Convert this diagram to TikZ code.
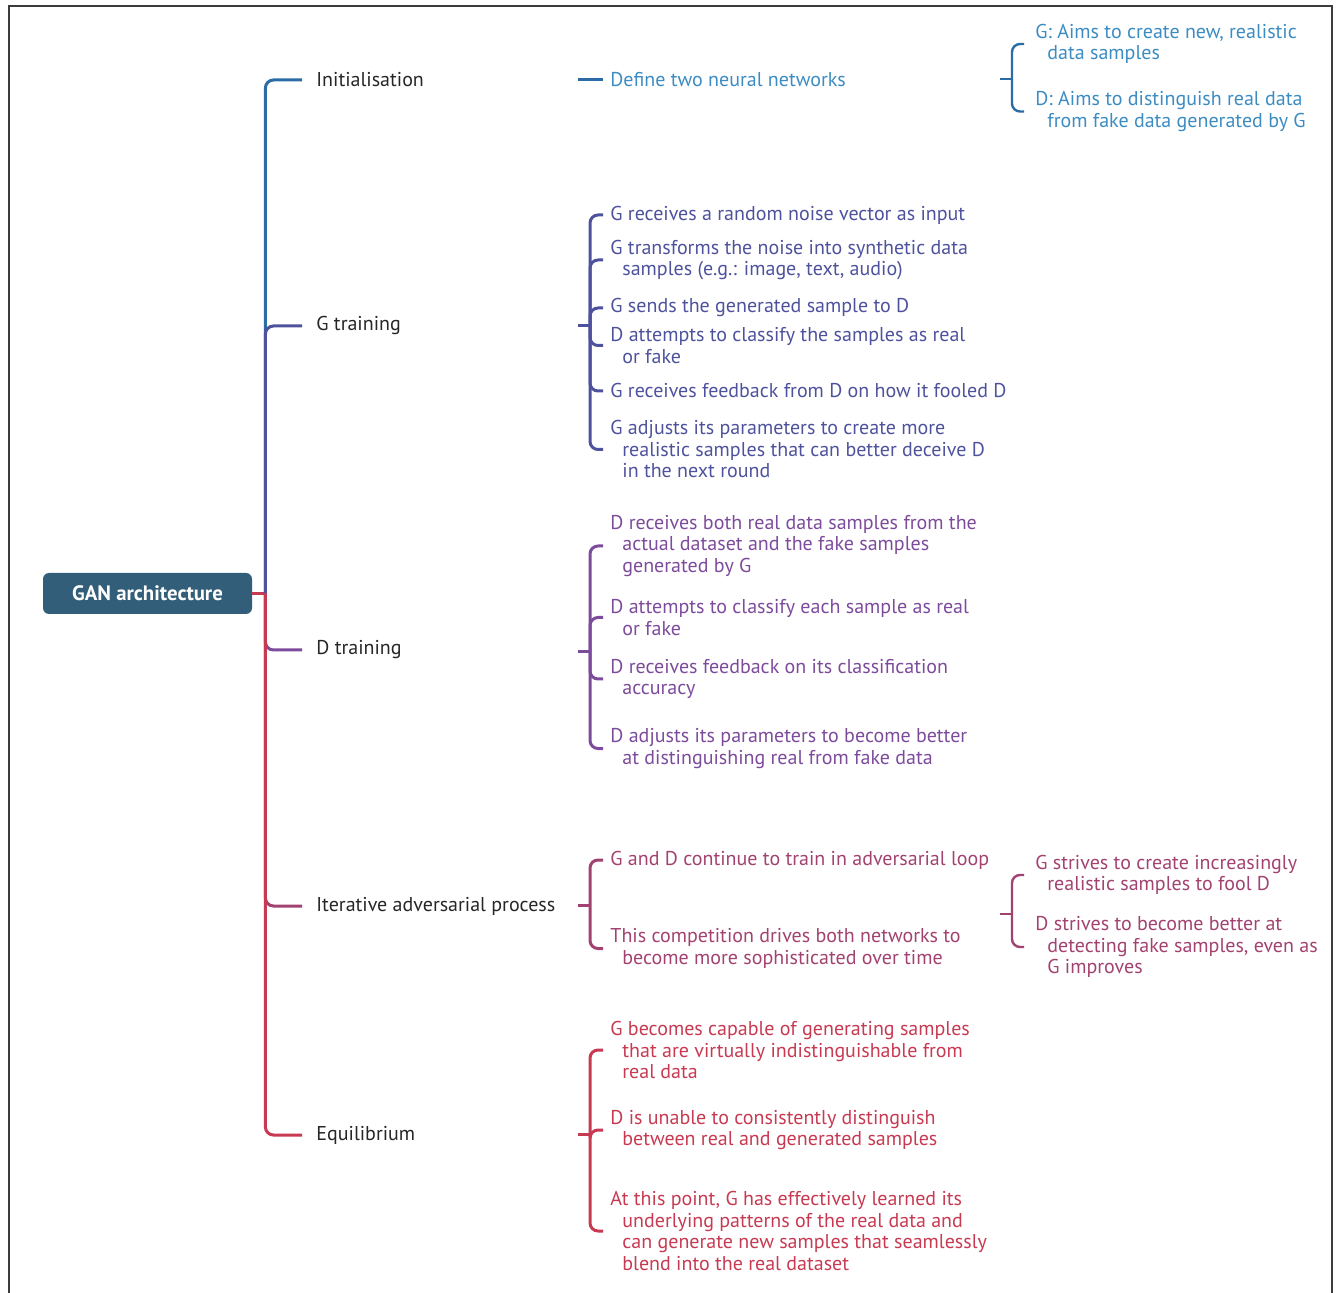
\documentclass[tikz,border=0pt]{standalone}
\usepackage{fontspec}
\setmainfont{PT Sans}
\usepackage{tikz}
\usetikzlibrary{positioning}
\definecolor{rootblue}{RGB}{51, 94, 121}
\definecolor{initblue}{RGB}{44, 108, 166}
\definecolor{initlight}{RGB}{60, 140, 194}
\definecolor{gindigo}{RGB}{78, 82, 156}
\definecolor{dviolet}{RGB}{125, 75, 156}
\definecolor{itermag}{RGB}{162, 66, 112}
\definecolor{equired}{RGB}{199, 58, 82}
\definecolor{framegray}{RGB}{60, 60, 60}
\newcommand{\indline}{\\\hspace*{6pt}}

\begin{document}
\begin{tikzpicture}[x=0.5pt, y=-0.5pt,
    font=\fontsize{10}{10.75}\selectfont,
    lvlone/.style={anchor=west, inner xsep=7pt, inner ysep=0pt, text=black!85},
    item/.style={anchor=west, align=left, inner xsep=3.5pt, inner ysep=0pt},
    sub/.style={anchor=west, align=left, inner xsep=5.5pt, inner ysep=0pt},
    link/.style={line width=1.5pt, rounded corners=4pt},
    sublink/.style={line width=1.2pt, rounded corners=4pt}]
  \useasboundingbox (0,0) rectangle (1338,1293);
  \draw[framegray, line width=0.7pt] (9,1293) -- (9,6) -- (1332,6) -- (1332,1293);

  % Root
  \node[fill=rootblue, rounded corners=3pt, minimum width=104.5pt, minimum height=20.5pt,
    text=white, font=\fontsize{10.4}{11}\selectfont\bfseries] (root) at (147.5,593.5) {GAN architecture};

  % Main branches
  \node[lvlone] (init) at (302,80) {Initialisation};
  \node[lvlone] (gtrain) at (302,326) {G training};
  \node[lvlone] (dtrain) at (302,650) {D training};
  \node[lvlone] (iter) at (302,906) {Iterative adversarial process};
  \node[lvlone] (equi) at (302,1135) {Equilibrium};

  \draw[link, equired] (root.east) -- ++(13,0) coordinate (trunk);
  \draw[link, initblue] (trunk) |- (init.west);
  \draw[link, gindigo] (trunk) |- (gtrain.west);
  \draw[link, dviolet] (trunk) |- (dtrain.west);
  \draw[link, itermag] (trunk) |- (iter.west);
  \draw[link, equired] (trunk) |- (equi.west);

  % Initialisation
  \node[item, text=initlight] (def) at (603,80) {Define two neural networks};
  \coordinate (defj) at (578,80);
  \draw[link, initblue] (defj) -- (def.west);

  \node[sub, text=initlight] (t1) at (1024,44) {G: Aims to create new, realistic\indline data samples};
  \node[sub, text=initlight] (t2) at (1024,111.5) {D: Aims to distinguish real data\indline from fake data generated by G};
  \coordinate (tj) at (1000,79);
  \draw[sublink, initblue] (tj) -- ++(12,0) coordinate (tk);
  \foreach \n in {t1,t2} \draw[sublink, initblue] (tk) |- (\n.west);

  % G training
  \node[item, text=gindigo] (g1) at (603,215) {G receives a random noise vector as input};
  \node[item, text=gindigo] (g2) at (603,260) {G transforms the noise into synthetic data\indline samples (e.g.: image, text, audio)};
  \node[item, text=gindigo] (g3) at (603,308) {G sends the generated sample to D};
  \node[item, text=gindigo] (g4) at (603,345.5) {D attempts to classify the samples as real\indline or fake};
  \node[item, text=gindigo] (g5) at (603,391) {G receives feedback from D on how it fooled D};
  \node[item, text=gindigo] (g6) at (603,449.5) {G adjusts its parameters to create more\indline realistic samples that can better deceive D\indline in the next round};
  \coordinate (gj) at (578,326);
  \draw[link, gindigo] (gj) -- ++(12,0) coordinate (gk);
  \foreach \n in {g1,g2,g3,g4,g5,g6} \draw[link, gindigo] (gk) |- (\n.west);

  % D training
  \node[item, text=dviolet] (d1) at (603,546) {D receives both real data samples from the\indline actual dataset and the fake samples\indline generated by G};
  \node[item, text=dviolet] (d2) at (603,617.5) {D attempts to classify each sample as real\indline or fake};
  \node[item, text=dviolet] (d3) at (603,679) {D receives feedback on its classification\indline accuracy};
  \node[item, text=dviolet] (d4) at (603,748.5) {D adjusts its parameters to become better\indline at distinguishing real from fake data};
  \coordinate (dj) at (578,652);
  \draw[link, dviolet] (dj) -- ++(12,0) coordinate (dk);
  \foreach \n in {d1,d2,d3,d4} \draw[link, dviolet] (dk) |- (\n.west);

  % Iterative adversarial process
  \node[item, text=itermag] (a1) at (603,860) {G and D continue to train in adversarial loop};
  \node[item, text=itermag] (a2) at (603,948.5) {This competition drives both networks to\indline become more sophisticated over time};
  \coordinate (aj) at (578,905);
  \draw[link, itermag] (aj) -- ++(12,0) coordinate (ak);
  \foreach \n in {a1,a2} \draw[link, itermag] (ak) |- (\n.west);

  \node[sub, text=itermag] (s1) at (1024,875) {G strives to create increasingly\indline realistic samples to fool D};
  \node[sub, text=itermag] (s2) at (1024,947) {D strives to become better at\indline detecting fake samples, even as\indline G improves};
  \coordinate (sj) at (1000,914);
  \draw[sublink, itermag] (sj) -- ++(12,0) coordinate (sk);
  \foreach \n in {s1,s2} \draw[sublink, itermag] (sk) |- (\n.west);

  % Equilibrium
  \node[item, text=equired] (e1) at (603,1050) {G becomes capable of generating samples\indline that are virtually indistinguishable from\indline real data};
  \node[item, text=equired] (e2) at (603,1130) {D is unable to consistently distinguish\indline between real and generated samples};
  \node[item, text=equired] (e3) at (603,1231) {At this point, G has effectively learned its\indline underlying patterns of the real data and\indline can generate new samples that seamlessly\indline blend into the real dataset};
  \coordinate (ej) at (578,1134);
  \draw[link, equired] (ej) -- ++(12,0) coordinate (ek);
  \foreach \n in {e1,e2,e3} \draw[link, equired] (ek) |- (\n.west);
\end{tikzpicture}
\end{document}
